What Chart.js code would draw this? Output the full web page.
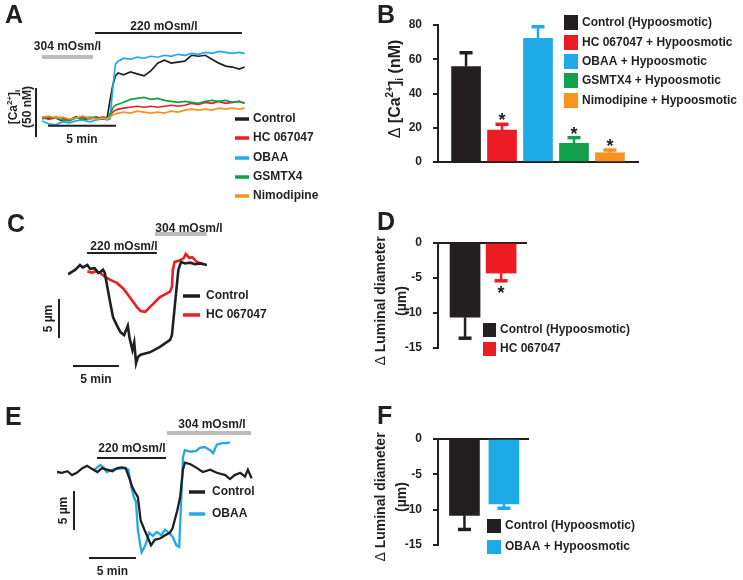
<!DOCTYPE html>
<html>
<head>
<meta charset="utf-8">
<title>Hypoosmotic responses</title>
<script src="https://cdn.jsdelivr.net/npm/chart.js@4.4.1/dist/chart.umd.min.js"></script>
<style>
  html, body { margin: 0; padding: 0; background: #fff; }
  #wrap { position: relative; width: 743px; height: 580px; overflow: hidden; }
  #wrap canvas { position: absolute; left: 0; top: 0; }
</style>
</head>
<body>
<div id="wrap">
  <canvas id="chartA" width="743" height="580"></canvas>
  <canvas id="chartB" width="743" height="580"></canvas>
  <canvas id="chartC" width="743" height="580"></canvas>
  <canvas id="chartD" width="743" height="580"></canvas>
  <canvas id="chartE" width="743" height="580"></canvas>
  <canvas id="chartF" width="743" height="580"></canvas>
</div>
<script>
// ---- data ----
// A: [Ca2+]i traces (nM above baseline) against time (min)
const aTime = [0, 0.5, 1, 1.5, 2, 2.5, 3, 3.5, 4, 4.5, 4.8, 5.0, 5.2, 5.4, 5.6, 6, 6.5, 7, 7.5, 8, 8.5, 9, 9.5, 10, 10.5, 11, 11.5, 12, 12.5, 13, 13.5, 14, 14.5, 14.9];
const aControl = [1, -1, 0, -3, -2, 1, -2, 0, 1, -1, 1, 18, 33, 43, 46, 44, 47, 45, 43, 48, 56, 59, 56, 57, 58, 64, 63, 64, 60, 56, 53, 52, 50, 52];
const aHC = [0, -1, 1, 0, -2, 0, 1, -1, 0, 1, 0, 3, 6, 8, 9, 10, 11, 12, 11, 12, 11, 12, 13, 12, 13, 15, 14, 16, 15, 17, 15, 16, 17, 15];
const aOBAA = [-3, -6, -7, -4, -5, -3, -2, -4, -2, -1, -2, -1, 30, 55, 58, 61, 60, 62, 61, 63, 62, 64, 63, 65, 64, 66, 65, 67, 66, 68, 67, 66, 67, 66];
const aGSMTX4 = [-1, 1, 0, -2, -3, 0, -1, 1, 0, -1, 0, 4, 10, 13, 14, 16, 19, 20, 21, 19, 20, 18, 17, 16, 17, 16, 15, 17, 18, 17, 18, 16, 17, 15];
const aNimodipine = [1, 2, 0, 1, -1, 0, 2, 0, -1, 0, -1, 1, 3, 4, 5, 6, 5, 7, 6, 5, 6, 5, 7, 6, 8, 9, 8, 9, 8, 10, 9, 10, 9, 10];
const aNames = ['Control', 'HC 067047', 'OBAA', 'GSMTX4', 'Nimodipine'];

// B: delta [Ca2+]i (nM), mean and SEM
const bNames = ['Control (Hypoosmotic)', 'HC 067047 + Hypoosmotic', 'OBAA + Hypoosmotic', 'GSMTX4 + Hypoosmotic', 'Nimodipine + Hypoosmotic'];
const bMeans = [55.7, 18.7, 72.2, 10.9, 5.4];
const bErrors = [8.1, 3.3, 6.8, 3.3, 1.6];
const bStars = [false, true, false, true, true];
const bTicks = [0, 20, 40, 60, 80];

// C: luminal diameter (um, relative) against time (min)
const cTimeControl = [0, 0.8, 1.3, 1.6, 2.1, 2.4, 2.9, 3.3, 3.5, 3.8, 4.0, 4.2, 4.6, 4.9, 5.3, 5.7, 6.1, 6.5, 6.7, 7.0, 7.2, 7.4, 7.6, 7.9, 8.9, 10.0, 11.1, 11.3, 11.6, 12.0, 12.3, 12.7, 13.3, 13.8, 14.4, 15.1];
const cControl = [-1.2, -0.6, 0, -0.3, 0, -0.5, -0.4, -1.0, -0.9, -0.6, -1.0, -2.3, -4.9, -6.7, -7.7, -8.6, -9.0, -7.8, -9.4, -10.9, -9.9, -12.6, -11.8, -11.5, -11.2, -10.5, -9.6, -9.0, -5.4, -0.6, 0.4, 0.2, 0.3, 0.1, 0.2, 0];
const cTimeHC = [2.1, 2.6, 3.0, 3.5, 4.0, 4.6, 5.3, 6.0, 6.7, 7.5, 7.9, 8.4, 8.9, 9.5, 10.0, 10.5, 11.1, 11.3, 11.4, 11.6, 12.2, 12.6, 12.8, 13.2, 13.5, 14.0, 14.7];
const cHC = [-0.8, -1.0, -0.8, -1.0, -1.5, -1.9, -2.3, -3.0, -4.1, -5.4, -5.9, -6.0, -5.4, -4.7, -4.1, -3.8, -3.4, -2.8, -0.6, 0.4, 0.6, 0.9, 1.4, 0.9, 1.0, 0.4, 0.1];

// D: delta luminal diameter (um), mean and SEM
const dNames = ['Control (Hypoosmotic)', 'HC 067047'];
const dMeans = [-10.6, -4.3];
const dErrors = [3.0, 1.1];
const dStars = [false, true];

// E: luminal diameter (um, relative) against time (min)
const eTimeControl = [0, 0.5, 1.1, 1.6, 2.1, 2.7, 3.2, 3.7, 4.3, 4.8, 5.3, 5.9, 6.4, 6.9, 7.3, 7.7, 8.0, 8.3, 8.6, 8.9, 9.3, 9.7, 10.0, 10.4, 11.0, 11.5, 12.0, 12.3, 12.8, 13.1, 13.4, 13.6, 14.2, 14.9, 15.5, 16.3, 17.0, 17.9, 18.4, 18.9, 19.5, 20.0, 20.3, 20.7];
const eControl = [0, -0.1, 0.1, -0.4, -0.1, 0.5, 0.8, 0.4, 0, 0.5, 0.3, 0.1, 0.5, 0.6, 0.5, -0.8, -1.9, -2.6, -3.2, -6.2, -7.4, -8.5, -9.4, -8.7, -8.5, -8.1, -7.8, -7.2, -4.9, -3.2, 0.3, 1.2, 1.0, 0.5, 0, 0.3, -0.1, -0.4, -0.9, -0.4, -0.1, -0.6, 0.3, -0.8];
const eTimeOBAA = [4.0, 4.6, 4.9, 5.3, 5.9, 6.5, 7.1, 7.6, 7.9, 8.2, 8.4, 8.6, 8.9, 9.0, 9.4, 9.8, 10.2, 10.6, 11.1, 11.5, 11.9, 12.3, 12.7, 13.0, 13.2, 13.4, 13.6, 14.2, 14.8, 15.2, 15.7, 16.3, 16.6, 17.0, 17.6, 18.0, 18.4];
const eOBAA = [0.3, 0.9, 0.6, 0, 0.3, 0.4, 0.5, 0.3, -1.9, -3.3, -3.8, -7.4, -9.7, -10.3, -9.4, -7.8, -8.2, -7.7, -8.1, -7.4, -7.8, -8.3, -9.4, -9.6, -4.0, 1.9, 2.8, 2.6, 2.7, 3.1, 3.2, 2.8, 2.4, 3.5, 3.7, 3.7, 3.8];

// F: delta luminal diameter (um), mean and SEM
const fNames = ['Control (Hypoosmotic)', 'OBAA + Hypoosmotic'];
const fMeans = [-10.8, -9.2];
const fErrors = [2.0, 0.6];
const diamTicks = [-15, -10, -5, 0];

// ---- styles ----
const INK = '#231f20';
const GREY = '#bcbcbc';
const C_BLACK = '#231f20', C_RED = '#ed1c24', C_BLUE = '#1eaae7', C_GREEN = '#12a04b', C_ORANGE = '#f7931e';
const aColors = [C_BLACK, C_RED, C_BLUE, C_GREEN, C_ORANGE];
const FAMILY = '"Liberation Sans", Arial, Helvetica, sans-serif';

Chart.defaults.font.family = FAMILY;
Chart.defaults.font.weight = 'bold';
Chart.defaults.font.size = 12;
Chart.defaults.color = INK;

function font(size, weight) { return (weight || 'bold') + ' ' + size + 'px ' + FAMILY; }
function zip(xs, ys) { return xs.map((x, i) => ({ x: x, y: ys[i] })); }

function line(ctx, x1, y1, x2, y2, color, width) {
  ctx.save();
  ctx.strokeStyle = color; ctx.lineWidth = width; ctx.lineCap = 'butt';
  ctx.beginPath(); ctx.moveTo(x1, y1); ctx.lineTo(x2, y2); ctx.stroke();
  ctx.restore();
}

function text(ctx, str, x, y, opt) {
  opt = opt || {};
  ctx.save();
  ctx.font = font(opt.size || 12, opt.weight);
  ctx.fillStyle = INK;
  ctx.textAlign = opt.align || 'left';
  ctx.textBaseline = opt.baseline || 'middle';
  ctx.translate(x, y);
  if (opt.rotate) ctx.rotate(opt.rotate);
  ctx.fillText(str, 0, 0);
  ctx.restore();
}

// centred text made of parts, some raised or lowered
function richText(ctx, parts, x, y, size, rotate) {
  ctx.save();
  ctx.translate(x, y);
  if (rotate) ctx.rotate(rotate);
  ctx.fillStyle = INK;
  ctx.textBaseline = 'alphabetic';
  const small = Math.round(size * 0.65);
  let total = 0;
  parts.forEach(p => {
    ctx.font = font(p.sup || p.sub ? small : size, p.weight);
    p.w = ctx.measureText(p.t).width;
    total += p.w;
  });
  let cx = -total / 2;
  const base = size * 0.36;
  parts.forEach(p => {
    ctx.font = font(p.sup || p.sub ? small : size, p.weight);
    let dy = base;
    if (p.sup) dy = base - size * 0.42;
    if (p.sub) dy = base + size * 0.22;
    ctx.fillText(p.t, cx, dy);
    cx += p.w;
  });
  ctx.restore();
}

function letter(ctx, str, x, y) {
  text(ctx, str, x, y, { size: 25, baseline: 'alphabetic' });
}

// osmolarity bar with its label, x range in minutes
function osmBar(chart, t0, t1, y, color, label, tx, ty) {
  const xs = chart.scales.x;
  line(chart.ctx, xs.getPixelForValue(t0), y, xs.getPixelForValue(t1), y, color, color === GREY ? 4 : 1.8);
  text(chart.ctx, label, tx, ty, { align: 'center' });
}

// time and amplitude scale bars, lengths in data units
function scaleBars(chart, vx, vFrom, vLen, vText, hx, hy, hLen, hText) {
  const { ctx, scales: { x, y } } = chart;
  const px = x.getPixelForValue(vx);
  const y1 = y.getPixelForValue(vFrom), y2 = y.getPixelForValue(vFrom + vLen);
  line(ctx, px, y1, px, y2, INK, 2);
  vText(ctx, px, (y1 + y2) / 2);
  const x1 = x.getPixelForValue(hx), x2 = x.getPixelForValue(hx + hLen);
  const py = y.getPixelForValue(hy);
  line(ctx, x1, py, x2, py, INK, 2);
  text(ctx, hText, (x1 + x2) / 2, py + 14, { align: 'center' });
}

function lineLegend(ctx, names, colors, x1, x2, tx, ys) {
  names.forEach((n, i) => {
    line(ctx, x1, ys[i], x2, ys[i], colors[i], 3.5);
    text(ctx, n, tx, ys[i]);
  });
}

function boxLegend(ctx, names, colors, x, w, h, tx, ys) {
  names.forEach((n, i) => {
    ctx.fillStyle = colors[i];
    ctx.fillRect(x, ys[i] - h / 2, w, h);
    text(ctx, n, tx, ys[i]);
  });
}

function errorBars(chart, means, errors, colors, stars) {
  const { ctx, scales: { x, y } } = chart;
  means.forEach((m, i) => {
    const dir = m < 0 ? -1 : 1;
    const cx = x.getPixelForValue(i);
    const y0 = y.getPixelForValue(m);
    const y1 = y.getPixelForValue(m + dir * errors[i]);
    line(ctx, cx, y0, cx, y1, colors[i], 2.5);
    line(ctx, cx - 6.5, y1, cx + 6.5, y1, colors[i], 3.5);
    if (stars && stars[i]) {
      ctx.save();
      ctx.font = font(18);
      ctx.fillStyle = INK;
      ctx.textAlign = 'center';
      ctx.textBaseline = 'alphabetic';
      const sy = dir > 0 ? y1 - 8 : y1 + 8;
      ctx.fillText('*', cx, sy + 10);
      ctx.restore();
    }
  });
}

function traceSet(series, colors, width) {
  return series.map((s, i) => ({
    data: s, borderColor: colors[i], borderWidth: width,
    pointRadius: 0, tension: 0, fill: false, order: i
  }));
}

function lineOptions(pad, xr, yr) {
  return {
    responsive: false, animation: false, devicePixelRatio: 1,
    layout: { padding: pad },
    plugins: { legend: { display: false }, tooltip: { enabled: false } },
    scales: {
      x: { type: 'linear', display: false, min: xr[0], max: xr[1] },
      y: { type: 'linear', display: false, min: yr[0], max: yr[1] }
    }
  };
}

function barOptions(pad, xr, yr, ticks, xPos) {
  return {
    responsive: false, animation: false, devicePixelRatio: 1,
    layout: { padding: pad },
    plugins: { legend: { display: false }, tooltip: { enabled: false } },
    scales: {
      x: {
        type: 'linear', position: xPos, offset: false, min: xr[0], max: xr[1],
        afterFit: s => { s.height = 0; },
        ticks: { display: false }, grid: { display: false, drawTicks: false },
        border: { display: true, color: INK, width: 2 }
      },
      y: {
        type: 'linear', min: yr[0], max: yr[1],
        afterFit: s => { s.width = 60; },
        afterBuildTicks: s => { s.ticks = ticks.map(v => ({ value: v })); },
        ticks: { padding: 11, color: INK, font: { size: 12, weight: 'bold' } },
        grid: { drawOnChartArea: false, tickLength: 5, color: INK, lineWidth: 2 },
        border: { display: true, color: INK, width: 2 }
      }
    }
  };
}

// ---- A ----
new Chart(document.getElementById('chartA'), {
  type: 'line',
  data: {
    datasets: traceSet([aControl, aHC, aOBAA, aGSMTX4, aNimodipine].map(v => zip(aTime, v)), aColors, 1.7)
      .map((d, i) => Object.assign(d, { order: 4 - i }))
  },
  options: lineOptions({ left: 42, right: 497, top: 39.6, bottom: 440.44 }, [0, 15], [-22, 80]),
  plugins: [{
    id: 'panelA',
    afterDraw(chart) {
      const ctx = chart.ctx;
      letter(ctx, 'A', 5, 23);
      osmBar(chart, 3.9, 14.7, 33, INK, '220 mOsm/l', 164, 27);
      osmBar(chart, 0, 3.75, 57, GREY, '304 mOsm/l', 67.5, 47);
      scaleBars(chart, -0.44, -19.4, 50, () => {}, 0.44, -8, 5, '5 min');
      richText(ctx, [{ t: '[Ca' }, { t: '2+', sup: true }, { t: ']' }, { t: 'i', sub: true }], 13, 107, 12, -Math.PI / 2);
      text(ctx, '(50 nM)', 28, 107, { align: 'center', rotate: -Math.PI / 2 });
      lineLegend(ctx, aNames, aColors, 235, 249, 253, [119, 138, 158, 177, 196]);
    }
  }]
});

// ---- B ----
new Chart(document.getElementById('chartB'), {
  type: 'bar',
  data: {
    datasets: [{
      data: zip(bMeans.map((v, i) => i), bMeans),
      backgroundColor: aColors, borderWidth: 0, barThickness: 29
    }]
  },
  options: barOptions({ left: 378, right: 105, top: 25, bottom: 418 }, [-0.78, 4.78], [0, 80], bTicks, 'bottom'),
  plugins: [{
    id: 'panelB',
    afterDatasetsDraw(chart) { errorBars(chart, bMeans, bErrors, aColors, bStars); },
    afterDraw(chart) {
      const ctx = chart.ctx;
      letter(ctx, 'B', 377, 23);
      richText(ctx, [{ t: '\u0394 ', weight: 'normal' }, { t: '[Ca' }, { t: '2+', sup: true }, { t: ']' }, { t: 'i', sub: true }, { t: ' (nM)' }], 394, 89, 16, -Math.PI / 2);
      boxLegend(ctx, bNames, aColors, 564, 14, 15, 582, [22.5, 42.5, 61.5, 80.5, 100.5]);
    }
  }]
});

// ---- C ----
new Chart(document.getElementById('chartC'), {
  type: 'line',
  data: { datasets: traceSet([zip(cTimeControl, cControl), zip(cTimeHC, cHC)], [C_BLACK, C_RED], 2.6) },
  options: lineOptions({ left: 68, right: 535.2, top: 249.4, bottom: 205.8 }, [0, 15.2], [-14, 2]),
  plugins: [{
    id: 'panelC',
    afterDraw(chart) {
      const ctx = chart.ctx;
      letter(ctx, 'C', 7, 232);
      osmBar(chart, 2.07, 9.67, 253, INK, '220 mOsm/l', 124, 247);
      osmBar(chart, 9.46, 15.1, 234, GREY, '304 mOsm/l', 189, 229);
      scaleBars(chart, -0.98, -9.36, 5, (c, px, py) => text(c, '5 \u00b5m', px - 10, py, { align: 'center', rotate: -Math.PI / 2 }), 0.54, -12.95, 5, '5 min');
      lineLegend(ctx, ['Control', 'HC 067047'], [C_BLACK, C_RED], 183, 200, 206, [296, 315]);
    }
  }]
});

// ---- D ----
new Chart(document.getElementById('chartD'), {
  type: 'bar',
  data: {
    datasets: [{
      data: zip(dMeans.map((v, i) => i), dMeans),
      backgroundColor: [C_BLACK, C_RED], borderWidth: 0, barThickness: 30
    }]
  },
  options: barOptions({ left: 378, right: 217, top: 243, bottom: 232 }, [-0.75, 1.69], [-15, 0], diamTicks, 'top'),
  plugins: [{
    id: 'panelD',
    afterDatasetsDraw(chart) { errorBars(chart, dMeans, dErrors, [C_BLACK, C_RED], dStars); },
    afterDraw(chart) {
      const ctx = chart.ctx;
      letter(ctx, 'D', 377, 230);
      richText(ctx, [{ t: '\u0394 ', weight: 'normal' }, { t: 'Luminal diameter' }], 380, 301, 14, -Math.PI / 2);
      richText(ctx, [{ t: '(\u00b5m)' }], 401, 301, 14, -Math.PI / 2);
      boxLegend(ctx, dNames, [C_BLACK, C_RED], 483, 13, 14, 500, [330, 349]);
    }
  }]
});

// ---- E ----
new Chart(document.getElementById('chartE'), {
  type: 'line',
  data: { datasets: traceSet([zip(eTimeControl, eControl), zip(eTimeOBAA, eOBAA)], [C_BLACK, C_BLUE], 2.3) },
  options: lineOptions({ left: 57, right: 488.6, top: 433, bottom: 14.4 }, [0, 21], [-12, 5]),
  plugins: [{
    id: 'panelE',
    afterDraw(chart) {
      const ctx = chart.ctx;
      letter(ctx, 'E', 5, 425);
      osmBar(chart, 4.26, 11.6, 458, INK, '220 mOsm/l', 132, 449);
      osmBar(chart, 11.7, 20.64, 433, GREY, '304 mOsm/l', 212, 425);
      scaleBars(chart, 1.81, -7.44, 5, (c, px, py) => text(c, '5 \u00b5m', px - 10, py, { align: 'center', rotate: -Math.PI / 2 }), 3.4, -11.03, 5, '5 min');
      lineLegend(ctx, ['Control', 'OBAA'], [C_BLACK, C_BLUE], 189, 205, 212, [492, 514]);
    }
  }]
});

// ---- F ----
new Chart(document.getElementById('chartF'), {
  type: 'bar',
  data: {
    datasets: [{
      data: zip(fMeans.map((v, i) => i), fMeans),
      backgroundColor: [C_BLACK, C_BLUE], borderWidth: 0, barThickness: 30
    }]
  },
  options: barOptions({ left: 378, right: 215, top: 439, bottom: 35 }, [-0.67, 1.61], [-15, 0], diamTicks, 'top'),
  plugins: [{
    id: 'panelF',
    afterDatasetsDraw(chart) { errorBars(chart, fMeans, fErrors, [C_BLACK, C_BLUE], null); },
    afterDraw(chart) {
      const ctx = chart.ctx;
      letter(ctx, 'F', 377, 424);
      richText(ctx, [{ t: '\u0394 ', weight: 'normal' }, { t: 'Luminal diameter' }], 380, 497, 14, -Math.PI / 2);
      richText(ctx, [{ t: '(\u00b5m)' }], 401, 497, 14, -Math.PI / 2);
      boxLegend(ctx, fNames, [C_BLACK, C_BLUE], 487, 14, 14, 505, [526, 547]);
    }
  }]
});
</script>
</body>
</html>
